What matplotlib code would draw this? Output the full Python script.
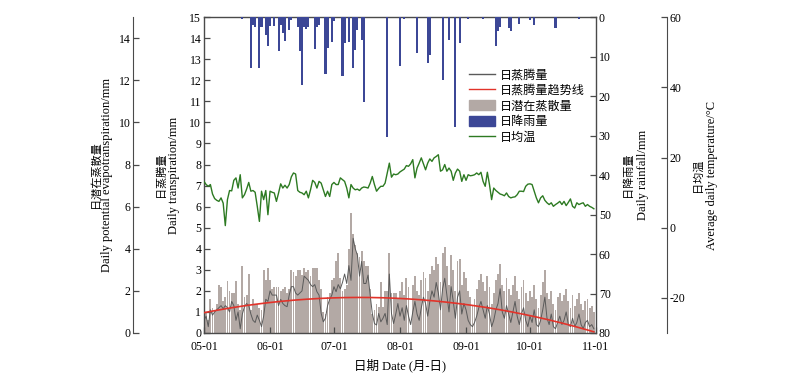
import numpy as np
import pandas as pd
import matplotlib
matplotlib.use("Agg")
import matplotlib.pyplot as plt
import matplotlib.dates as mdates
from matplotlib.patches import Patch
from matplotlib.lines import Line2D

plt.rcParams['font.family'] = ['Liberation Serif', 'Noto Sans CJK SC']
plt.rcParams['axes.unicode_minus'] = False

# 2019-05-01 ~ 2019-10-31, one value per day
dates = pd.date_range('2019-05-01', '2019-10-31', freq='D')

# 日蒸腾量 (mm)
transp = [
    0.6, 0.8, 0.3, 1.1, 0.85, 1.0, 1.1, 1.2, 1.3, 1.15,
    1.3, 1.2, 1.0, 1.5, 1.3, 0.6, 1.0, 0.2, 0.9, 1.25,
    1.4, 1.3, 0.9, 0.6, 0.5, 0.85, 0.6, 0.3, 0.8, 1.6,
    1.5, 2.0, 1.8, 1.8, 1.8, 1.3, 1.6, 1.4, 1.3, 1.25,
    1.8, 2.2, 2.2, 1.9, 1.8, 1.9, 2.0, 2.7, 2.6, 2.5,
    2.3, 2.2, 2.3, 1.96, 1.8, 0.93, 0.53, 0.7, 1.3, 1.6,
    1.8, 2.2, 1.96, 2.3, 2.1, 2.4, 2.8, 2.35, 3.2, 2.5,
    4.5, 4.0, 3.7, 2.7, 3.4, 2.35, 2.35, 2.75, 1.8, 0.93,
    0.45, 0.38, 0.93, 0.53, 0.7, 0.93, 0.4, 2.8, 0.93, 0.45,
    0.9, 1.4, 0.8, 1.2, 0.6, 1.3, 0.8, 0.4, 1.0, 1.5,
    0.9, 0.6, 1.2, 1.7, 1.4, 0.8, 1.5, 2.0, 1.7, 2.4,
    1.9, 1.1, 2.1, 2.6, 1.8, 1.0, 2.2, 1.5, 0.7, 1.7,
    2.0, 0.9, 1.4, 1.1, 0.6, 0.4, 0.3, 0.5, 0.8, 1.2,
    1.5, 1.1, 0.7, 1.3, 0.9, 0.3, 0.6, 1.1, 1.4, 2.1,
    1.0, 0.7, 1.3, 0.9, 0.5, 1.0, 1.5, 0.8, 0.4, 0.9,
    1.2, 0.6, 0.3, 0.8, 0.5, 1.1, 0.4, 0.3, 0.6, 1.1,
    1.7, 0.7, 0.4, 0.9, 0.3, 0.2, 0.5, 0.8, 0.4, 0.6,
    1.0, 0.4, 0.3, 0.7, 0.3, 0.5, 0.9, 0.4, 0.2, 0.5,
    0.6, 0.3, 0.4, 0.2,
]

# 日潜在蒸散量 (mm)
pet = [
    0.8, 1.0, 0.6, 1.6, 1.2, 1.1, 1.4, 2.3, 2.2, 1.5,
    1.7, 2.45, 2.0, 1.9, 1.9, 2.45, 1.4, 1.1, 3.2, 1.7,
    1.8, 2.8, 1.1, 1.6, 1.4, 1.4, 1.2, 1.1, 3.0, 2.5,
    3.1, 2.5, 2.1, 2.2, 2.2, 2.2, 2.0, 2.1, 2.2, 1.9,
    2.1, 3.0, 2.9, 2.7, 3.0, 3.0, 2.75, 3.1, 2.9, 3.0,
    2.7, 3.1, 3.1, 3.1, 2.5, 2.1, 1.0, 0.9, 1.7, 1.9,
    2.5, 2.6, 3.4, 3.8, 2.6, 2.0, 2.1, 2.3, 4.0, 5.7,
    4.7, 4.2, 3.8, 3.6, 3.9, 3.4, 3.2, 3.2, 2.1, 0.9,
    1.1, 1.4, 1.25, 2.4, 1.25, 2.0, 2.0, 3.8, 1.9, 1.9,
    1.9, 1.6, 2.0, 2.4, 1.8, 2.6, 2.2, 0.0, 2.3, 2.7,
    2.0, 1.8, 2.5, 2.9, 2.6, 2.0, 2.8, 3.2, 3.0, 3.6,
    3.3, 2.4, 3.8, 4.1, 3.2, 2.3, 3.7, 3.0, 2.0, 3.4,
    3.5, 2.3, 2.9, 2.6, 2.0, 1.7, 1.3, 1.6, 2.1, 2.5,
    2.8, 2.4, 2.0, 2.7, 2.2, 1.4, 1.9, 2.5, 2.8, 3.3,
    2.3, 2.0, 2.6, 2.1, 1.8, 2.3, 2.7, 2.0, 1.6, 2.2,
    2.5, 1.9, 1.5, 2.0, 1.7, 2.3, 1.6, 1.2, 1.8, 2.4,
    3.0, 1.9, 1.6, 2.0, 1.4, 1.1, 1.7, 1.9, 1.5, 1.8,
    2.1, 1.5, 1.2, 1.8, 1.3, 1.6, 1.9, 1.4, 1.1, 1.5,
    1.6, 1.2, 1.3, 1.0,
]

# 日降雨量 (mm), 0 = no rain
rain = [
    0, 0, 0, 0, 0, 0, 0, 0, 0, 0,
    0, 0, 0, 0, 0, 0, 0, 0, 0.5, 0,
    0, 0, 12.9, 2.0, 2.4, 0, 12.9, 2.4, 0, 4.5,
    7.2, 2.2, 0, 2.2, 0, 8.7, 2.0, 4.1, 6.0, 0,
    3.2, 0.7, 0, 0, 2.4, 8.7, 17.1, 2.4, 3.0, 2.5,
    0, 0, 8.1, 2.4, 2.0, 0, 0, 14.4, 7.9, 0,
    6.2, 1.1, 0, 0, 0, 15.0, 6.6, 0, 6.2, 0,
    12.9, 8.3, 3.2, 0, 5.7, 21.4, 0, 0, 0, 0,
    0, 0, 0, 0, 0, 0, 30.4, 0, 0, 0,
    0, 0, 12.5, 0, 0.5, 0, 0, 0, 0, 0,
    9.1, 0, 0, 0, 0, 11.6, 9.5, 0, 0, 0,
    0, 0, 15.9, 0, 0, 5.7, 0, 0, 27.7, 0,
    6.6, 0, 0, 0, 0.5, 0, 0, 0, 0, 0,
    0, 0.5, 0, 0, 0, 0, 0, 7.4, 3.6, 2.4,
    0, 0, 0, 2.8, 3.6, 0, 0, 0, 1.7, 0,
    0, 0, 0, 0.7, 0, 2.0, 0, 0, 0, 0,
    0, 0, 0, 0, 0, 2.8, 0, 0, 0, 0,
    0, 0, 0, 0, 0, 0, 0.5, 0, 0, 0,
    0, 0, 0, 0,
]

# 日均温 (°C)
temp = [
    13.2, 12.3, 11.8, 12.3, 9.6, 8.3, 7.8, 7.5, 8.5, 7.0,
    0.6, 8.0, 10.6, 10.5, 13.5, 14.2, 11.3, 15.1, 8.5, 9.4,
    11.0, 12.9, 10.4, 10.6, 10.1, 6.1, 1.8, 10.4, 8.0, 10.6,
    3.7, 10.4, 10.1, 9.9, 7.5, 9.9, 12.5, 11.3, 12.1, 11.3,
    12.3, 14.5, 15.6, 15.3, 10.6, 10.1, 9.9, 9.4, 10.4, 8.5,
    10.8, 13.5, 12.9, 11.3, 13.2, 12.7, 10.8, 8.9, 10.4, 8.9,
    12.3, 12.9, 12.3, 12.3, 14.2, 13.7, 13.2, 11.3, 8.5, 12.3,
    11.3, 10.8, 11.0, 10.6, 11.3, 11.6, 11.5, 11.3, 12.7, 14.6,
    12.3, 10.4, 11.2, 11.8, 11.8, 12.7, 15.6, 18.4, 14.4, 15.3,
    15.1, 15.3, 15.9, 16.3, 16.7, 17.7, 17.5, 18.2, 19.4, 14.2,
    17.0, 18.4, 19.9, 18.2, 16.5, 18.4, 19.6, 18.9, 19.9, 20.3,
    20.8, 16.1, 16.5, 18.0, 16.1, 17.0, 16.1, 13.5, 15.6, 16.7,
    16.1, 13.2, 15.1, 13.5, 15.1, 14.8, 14.9, 15.1, 15.6, 15.1,
    15.8, 13.2, 11.8, 15.8, 12.3, 8.0, 11.3, 10.6, 10.1, 9.6,
    9.4, 9.1, 9.9, 8.9, 8.5, 8.7, 8.8, 9.4, 10.4, 10.4,
    10.3, 11.8, 12.4, 12.5, 12.3, 10.4, 8.5, 7.1, 8.5, 9.1,
    7.8, 7.1, 6.6, 7.1, 6.1, 6.6, 7.0, 7.5, 6.6, 7.5,
    6.3, 7.2, 8.2, 6.1, 5.6, 7.1, 6.6, 6.9, 7.1, 6.1,
    6.6, 6.1, 5.8, 5.4,
]

month_ticks = pd.date_range('2019-05-01', '2019-11-01', freq='MS')

# 二次多项式趋势线
days = np.arange(len(dates))
trend = np.polyval(np.polyfit(days, transp, 2), days)

c_spine = '#4a4a4a'
c_pet = '#b3a9a5'
c_rain = '#3c4796'
c_tr = '#5a5a5a'
c_trend = '#e2332a'
c_temp = '#2d7a22'
fs = 8.5

fig = plt.figure(figsize=(8, 3.81), dpi=100)
ax = fig.add_axes([0.255, 0.126, 0.49, 0.829])

ax.bar(dates, pet, width=0.85, color=c_pet, lw=0, zorder=1)
ax.plot(dates, transp, color=c_tr, lw=0.7, zorder=2)
ax.plot(dates, trend, color=c_trend, lw=1.2, zorder=3)
ax.set_ylim(0, 15)
ax.set_yticks(range(0, 16))
ax.set_xlim(pd.Timestamp('2019-05-01'), pd.Timestamp('2019-11-01'))
ax.set_xticks(month_ticks)
ax.xaxis.set_major_formatter(mdates.DateFormatter('%m-%d'))
ax.set_xlabel('日期 Date (月-日)', fontsize=9)
ax.xaxis.set_label_coords(0.5, -0.08)

# outer left axis: PET
ax_pet = ax.twinx()
ax_pet.yaxis.set_ticks_position('left')
ax_pet.spines['left'].set_position(('outward', 51))
ax_pet.set_ylim(0, 15)
ax_pet.set_yticks(range(0, 15, 2))

# right axis: rainfall (inverted)
ax_rain = ax.twinx()
ax_rain.bar(dates, rain, width=1.0, color=c_rain, lw=0)
ax_rain.set_ylim(80, 0)
ax_rain.set_yticks(range(0, 81, 10))

# outer right axis: temperature
ax_temp = ax.twinx()
ax_temp.plot(dates, temp, color=c_temp, lw=1.0)
ax_temp.spines['right'].set_position(('outward', 51))
ax_temp.set_ylim(-30, 60)
ax_temp.set_yticks(range(-20, 61, 20))

for a in (ax, ax_pet, ax_rain, ax_temp):
    for s in a.spines.values():
        s.set_visible(False)
    a.tick_params(direction='in', length=4, width=0.9, color=c_spine,
                  labelsize=fs, pad=2)
for s in ax.spines.values():
    s.set_visible(True)
    s.set_color(c_spine)
    s.set_linewidth(1.0)
ax_pet.spines['left'].set_visible(True)
ax_pet.spines['left'].set_color(c_spine)
ax_temp.spines['right'].set_visible(True)
ax_temp.spines['right'].set_color(c_spine)
ax.tick_params(axis='x', pad=5.5)

# y axis titles: Chinese line + English line
ylabels = [
    ('日潜在蒸散量', 'Daily potential evapotranspiration/mm', -0.278, -0.247),
    ('日蒸腾量', 'Daily transpiration/mm', -0.110, -0.077),
    ('日降雨量', 'Daily rainfall/mm', 1.082, 1.120),
    ('日均温', 'Average daily temperature/°C', 1.258, 1.296),
]
for zh, en, xz, xe in ylabels:
    ax.text(xz, 0.5, zh, transform=ax.transAxes, rotation=90, fontsize=8,
            ha='center', va='center')
    ax.text(xe, 0.5, en, transform=ax.transAxes, rotation=90, fontsize=9,
            ha='center', va='center')

handles = [
    Line2D([], [], color=c_tr, lw=1.0),
    Line2D([], [], color=c_trend, lw=1.0),
    Patch(color=c_pet),
    Patch(color=c_rain),
    Line2D([], [], color=c_temp, lw=1.0),
]
labels = ['日蒸腾量', '日蒸腾量趋势线', '日潜在蒸散量', '日降雨量', '日均温']
ax_temp.legend(handles, labels, loc='upper left', bbox_to_anchor=(0.66, 0.855),
               frameon=False, fontsize=8.7, handlelength=2.2, handleheight=0.9,
               handletextpad=0.35, labelspacing=0.28, borderpad=0)

fig.savefig('out.png', dpi=100)
